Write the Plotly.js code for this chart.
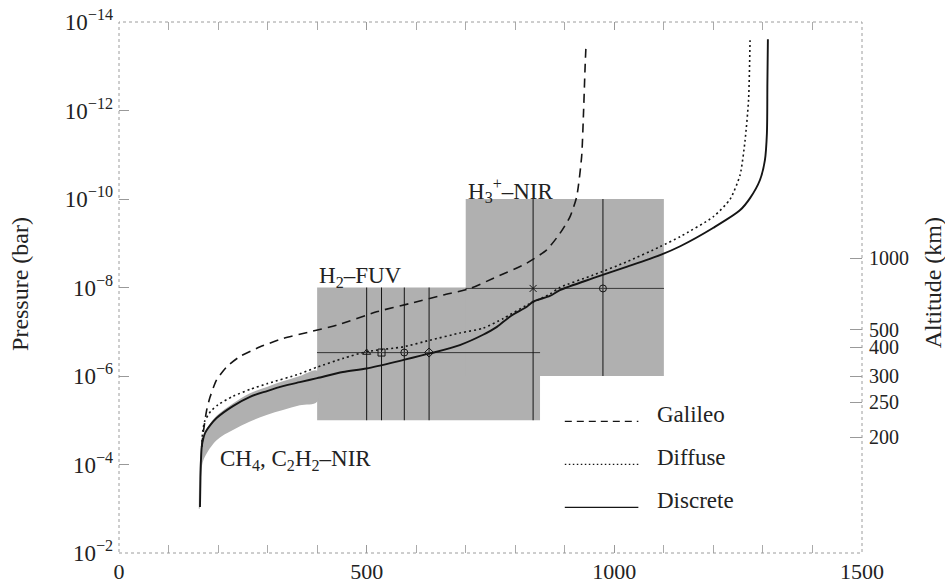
<!DOCTYPE html>
<html>
<head>
<meta charset="utf-8">
<script src="https://cdn.plot.ly/plotly-3.0.1.min.js"></script>
<style>
  html, body { margin: 0; padding: 0; background: #fff; }
  #chart { width: 945px; height: 587px; }
</style>
</head>
<body>
<div id="chart"></div>
<script>
// Temperature (K) vs pressure (bar) profiles of the upper atmosphere
const galileoT = [167, 170, 177, 184, 197, 217.5, 244, 285, 332, 386, 440, 520, 588, 655, 709, 756, 823, 863.5, 890, 910.6, 924, 934, 937.5, 941, 943];
const galileoP = [3.98e-5, 1.95e-5, 5.89e-6, 2.95e-6, 1.23e-6, 6.17e-7, 3.63e-7, 2.19e-7, 1.41e-7, 1.00e-7, 7.08e-8, 3.55e-8, 2.29e-8, 1.48e-8, 1.05e-8, 6.17e-9, 2.82e-9, 1.41e-9, 6.03e-10, 2.51e-10, 8.91e-11, 1.10e-11, 1.38e-12, 1.02e-13, 3.02e-14];

const diffuseT = [167, 169, 173, 185, 200, 230, 265, 300, 365, 400, 453, 500, 574, 628, 688, 735, 776, 823, 870, 890, 957, 1025, 1092, 1133, 1200, 1234, 1254, 1264, 1271, 1274];
const diffuseP = [3.98e-5, 1.78e-5, 1.05e-5, 6.31e-6, 4.47e-6, 2.88e-6, 2.00e-6, 1.48e-6, 8.91e-7, 6.31e-7, 3.98e-7, 2.82e-7, 2.19e-7, 1.55e-7, 1.07e-7, 8.32e-8, 5.01e-8, 2.51e-8, 1.41e-8, 1.00e-8, 5.25e-9, 2.63e-9, 1.20e-9, 7.08e-10, 2.51e-10, 1.00e-10, 2.82e-11, 4.68e-12, 5.75e-13, 2.57e-14];

const discreteT = [163.5, 164.5, 165.5, 167, 170, 173.6, 185, 197, 230, 264.5, 299, 331, 365, 400, 452, 500, 573, 628, 688, 735, 763, 789, 824, 836, 870, 890, 957, 1026, 1092, 1133, 1200, 1254, 1274, 1294, 1304, 1308, 1309, 1310];
const discreteP = [9.12e-4, 2.00e-4, 7.94e-5, 3.98e-5, 2.63e-5, 1.95e-5, 1.26e-5, 8.91e-6, 4.79e-6, 2.95e-6, 2.19e-6, 1.70e-6, 1.38e-6, 1.12e-6, 8.13e-7, 6.76e-7, 4.37e-7, 3.09e-7, 2.00e-7, 1.17e-7, 7.76e-8, 4.57e-8, 2.69e-8, 2.09e-8, 1.55e-8, 1.15e-8, 6.17e-9, 3.39e-9, 1.86e-9, 1.17e-9, 4.47e-10, 1.78e-10, 9.55e-11, 3.72e-11, 1.32e-11, 3.31e-12, 2.45e-13, 2.45e-14];

// CH4, C2H2 near-IR sensitivity band (outline: deep edge, then shallow edge back)
const nirBandT = [163, 165, 168, 173.6, 197, 230, 264.5, 298, 331, 365, 400, 400, 365, 331, 300, 264.5, 230, 197, 180, 168, 163, 161];
const nirBandP = [1.00e-3, 2.51e-4, 1.00e-4, 6.61e-5, 2.82e-5, 1.66e-5, 1.07e-5, 7.59e-6, 5.89e-6, 4.57e-6, 3.80e-6, 7.59e-7, 1.00e-6, 1.32e-6, 1.74e-6, 2.45e-6, 4.17e-6, 7.94e-6, 1.41e-5, 2.82e-5, 1.00e-4, 1.00e-3];

// H2 far-UV and H3+ near-IR sensitivity ranges
const fuvBoxT = [400, 850, 850, 400, 400];
const fuvBoxP = [1e-5, 1e-5, 1e-8, 1e-8, 1e-5];
const h3BoxT = [700, 1100, 1100, 700, 700];
const h3BoxP = [1e-6, 1e-6, 1e-10, 1e-10, 1e-6];

// Retrieved temperatures with their pressure and temperature ranges
const fuvPointT = [500, 530, 576, 626];
const fuvPointP = [2.95e-7, 2.95e-7, 2.95e-7, 2.95e-7];
const fuvPointDeep = [1e-5, 1e-5, 1e-5, 1e-5];
const fuvPointHigh = [1e-8, 1e-8, 1e-8, 1e-8];
const fuvPointTmin = [400, 400, 400, 400];
const fuvPointTmax = [850, 850, 850, 850];
const fuvSymbols = ['triangle-up-open', 'square-open', 'circle-open', 'diamond-open'];

const h3PointT = [836, 977];
const h3PointP = [1.05e-8, 1.05e-8];
const h3PointDeep = [1e-5, 1e-6];
const h3PointHigh = [1e-10, 1e-10];
const h3PointTmin = [700, 700];
const h3PointTmax = [1100, 1100];
const h3Symbols = ['x-thin-open', 'circle-open'];

// Axis ticks
const tempTicks = [0, 500, 1000, 1500];
const pressureTicks = [1e-14, 1e-12, 1e-10, 1e-8, 1e-6, 1e-4, 1e-2];
const pressureTickText = ['10<sup>−14</sup>', '10<sup>−12</sup>', '10<sup>−10</sup>', '10<sup>−8</sup>', '10<sup>−6</sup>', '10<sup>−4</sup>', '10<sup>−2</sup>'];
const altitudeKm = [1000, 500, 400, 300, 250, 200];
const altitudeP = [2.19e-9, 8.91e-8, 2.24e-7, 1.02e-6, 3.89e-6, 2.45e-5];

const FILL = 'rgb(176,176,176)';
const INK = '#151515';
const SERIF = '"Liberation Serif", "Times New Roman", Times, serif';

function sub(a, b) { return a.map((v, i) => v - b[i]); }

function pointsTrace(T, P, deep, high, tmin, tmax, symbols) {
  return {
    x: T, y: P, mode: 'markers', type: 'scatter', hoverinfo: 'skip',
    marker: { symbol: symbols, size: 7, color: INK, line: { width: 1, color: INK } },
    error_y: { type: 'data', symmetric: false, array: sub(deep, P), arrayminus: sub(P, high), width: 0, thickness: 1, color: INK },
    error_x: { type: 'data', symmetric: false, array: sub(tmax, T), arrayminus: sub(T, tmin), width: 0, thickness: 1, color: '#444' }
  };
}

const traces = [
  { x: fuvBoxT, y: fuvBoxP, mode: 'lines', fill: 'toself', fillcolor: FILL, line: { width: 0 }, hoverinfo: 'skip' },
  { x: h3BoxT, y: h3BoxP, mode: 'lines', fill: 'toself', fillcolor: FILL, line: { width: 0 }, hoverinfo: 'skip' },
  { x: nirBandT, y: nirBandP, mode: 'lines', fill: 'toself', fillcolor: FILL, line: { width: 0, shape: 'spline' }, hoverinfo: 'skip' },
  pointsTrace(fuvPointT, fuvPointP, fuvPointDeep, fuvPointHigh, fuvPointTmin, fuvPointTmax, fuvSymbols),
  pointsTrace(h3PointT, h3PointP, h3PointDeep, h3PointHigh, h3PointTmin, h3PointTmax, h3Symbols),
  { name: 'Galileo', x: galileoT, y: galileoP, mode: 'lines', line: { color: INK, width: 1.6, dash: '9px,6px', shape: 'spline', smoothing: 0.6 } },
  { name: 'Diffuse', x: diffuseT, y: diffuseP, mode: 'lines', line: { color: INK, width: 1.6, dash: '2px,3px', shape: 'spline', smoothing: 0.6 } },
  { name: 'Discrete', x: discreteT, y: discreteP, mode: 'lines', line: { color: INK, width: 1.9, shape: 'spline', smoothing: 0.8 } },
  // carries the altitude scale on the right-hand axis
  { x: [null], y: [null], yaxis: 'y2', mode: 'lines', hoverinfo: 'skip' }
];

// hand-drawn key in the lower right of the frame
const keyItems = [
  { label: 'Galileo', dash: '7px,5px', y: 0.248 },
  { label: 'Diffuse', dash: '1.5px,2.5px', y: 0.167 },
  { label: 'Discrete', dash: 'solid', y: 0.086 }
];

const shapes = [
  { type: 'rect', xref: 'paper', yref: 'paper', x0: 0, x1: 1, y0: 0, y1: 1, line: { color: '#9c9c9c', width: 1, dash: 'dot' }, layer: 'above' }
].concat(keyItems.map(k => ({
  type: 'line', xref: 'paper', yref: 'paper', x0: 0.600, x1: 0.699, y0: k.y, y1: k.y,
  line: { color: INK, width: k.dash === 'solid' ? 1.4 : 1.3, dash: k.dash }
})));

const annotations = [
  { text: 'H<sub>2</sub>–FUV', x: 400, y: -8.24, xref: 'x', yref: 'y', xanchor: 'left', yanchor: 'middle', showarrow: false },
  { text: 'H<sub>3</sub><sup>+</sup>–NIR', x: 700, y: -10.2, xref: 'x', yref: 'y', xanchor: 'left', yanchor: 'middle', showarrow: false },
  { text: 'CH<sub>4</sub>, C<sub>2</sub>H<sub>2</sub>–NIR', x: 200, y: -4.1, xref: 'x', yref: 'y', xanchor: 'left', yanchor: 'middle', showarrow: false },
  { text: 'Pressure (bar)', xref: 'paper', yref: 'paper', x: -0.133, y: 0.507, textangle: -90, xanchor: 'center', yanchor: 'middle', showarrow: false, font: { size: 24 } },
  { text: 'Altitude (km)', xref: 'paper', yref: 'paper', x: 1.0956, y: 0.508, textangle: -90, xanchor: 'center', yanchor: 'middle', showarrow: false, font: { size: 24 } }
].concat(keyItems.map(k => ({
  text: k.label, xref: 'paper', yref: 'paper', x: 0.7214, y: k.y + 0.012, xanchor: 'left', yanchor: 'middle', showarrow: false
})));

const layout = {
  width: 945, height: 587,
  margin: { l: 119, r: 83, t: 22, b: 34 },
  paper_bgcolor: '#fff', plot_bgcolor: '#fff',
  font: { family: SERIF, size: 23, color: '#222' },
  showlegend: false,
  xaxis: {
    range: [0, 1500], tickvals: tempTicks, ticktext: tempTicks.map(String),
    tickfont: { size: 22 },
    ticks: 'inside', ticklen: 8, tickcolor: '#999', tickwidth: 1,
    minor: { dtick: 100, tick0: 0, ticks: 'inside', ticklen: 7, tickcolor: '#aaa', showgrid: false },
    mirror: 'allticks', showline: false, showgrid: false, zeroline: false,
    ticklabelstandoff: 3
  },
  yaxis: {
    type: 'log', range: [-2, -14], tickvals: pressureTicks, ticktext: pressureTickText,
    ticks: 'inside', ticklen: 10, tickcolor: '#999', tickwidth: 1,
    showline: false, showgrid: false, zeroline: false, ticklabelstandoff: 5
  },
  yaxis2: {
    type: 'log', range: [-2, -14], overlaying: 'y', side: 'right', anchor: 'x',
    tickvals: altitudeP, ticktext: altitudeKm.map(String),
    tickfont: { size: 20 },
    ticks: 'inside', ticklen: 12, tickcolor: '#999', tickwidth: 1,
    showline: false, showgrid: false, zeroline: false, ticklabelstandoff: 6
  },
  shapes: shapes,
  annotations: annotations
};

Plotly.newPlot('chart', traces, layout, { staticPlot: true, displayModeBar: false });
</script>
</body>
</html>
